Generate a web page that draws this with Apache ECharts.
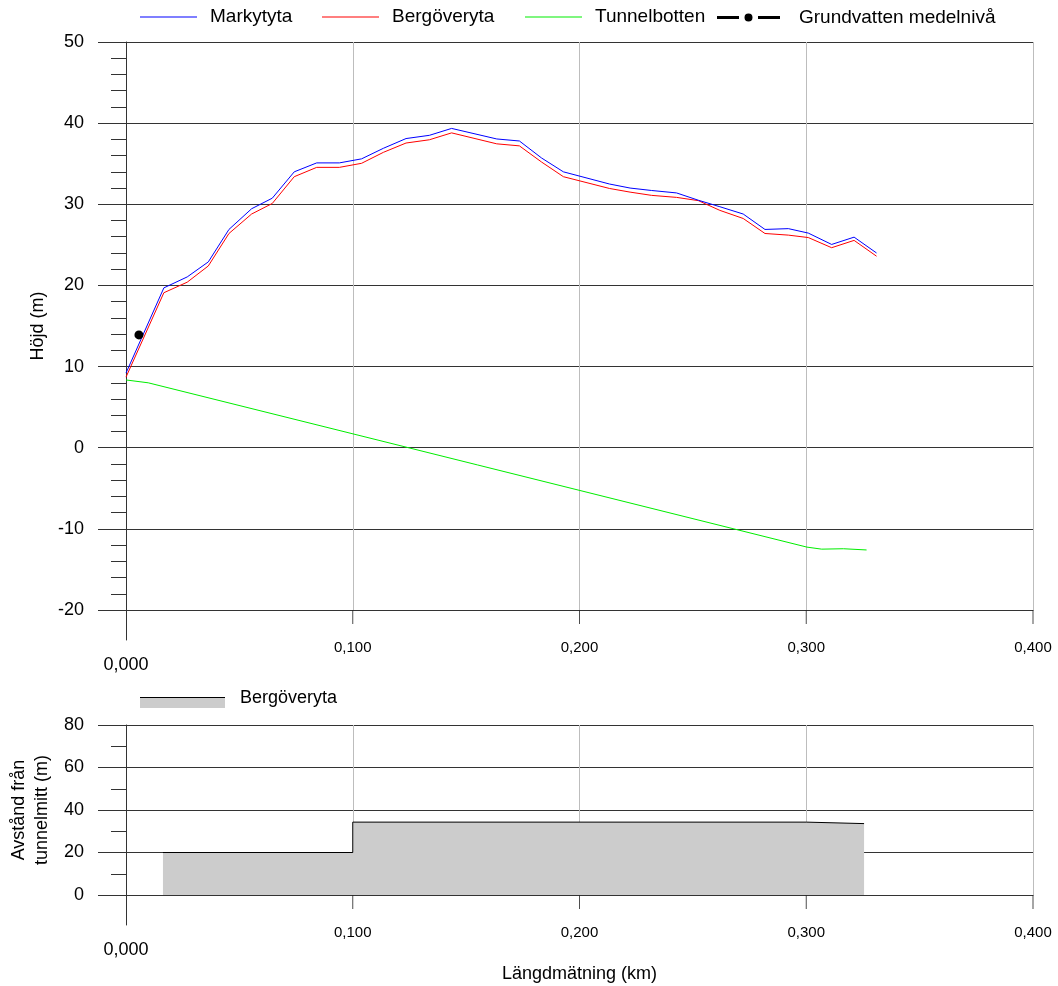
<!DOCTYPE html>
<html>
<head>
<meta charset="utf-8">
<script src="https://cdn.jsdelivr.net/npm/echarts@6/dist/echarts.min.js"></script>
<style>
html,body{margin:0;padding:0;background:#fff;}
#c{width:1058px;height:986px;}
</style>
</head>
<body>
<div id="c"></div>
<script>
// ---- data ----
const profileDist = [0, 0.0167, 0.027, 0.0363, 0.0454, 0.0554, 0.0645, 0.0742, 0.0841, 0.0941, 0.1039, 0.1135, 0.1235, 0.1338, 0.1436, 0.1635, 0.1735, 0.1833, 0.1929, 0.2132, 0.2223, 0.2318, 0.2428, 0.2524, 0.2619, 0.2722, 0.2818, 0.2921, 0.3009, 0.3112, 0.3211, 0.3310];
const markytyta = [9.2, 19.7, 21.05, 22.9, 26.9, 29.45, 30.75, 34.0, 35.1, 35.1, 35.6, 36.9, 38.1, 38.5, 39.35, 38.05, 37.8, 35.7, 34.0, 32.5, 32.0, 31.7, 31.4, 30.5, 29.7, 28.8, 26.9, 27.0, 26.45, 25.05, 25.95, 24.0];
const bergoveryta = [8.7, 19.1, 20.4, 22.4, 26.4, 28.8, 30.1, 33.4, 34.55, 34.55, 35.05, 36.4, 37.55, 37.95, 38.8, 37.45, 37.2, 35.2, 33.4, 31.95, 31.5, 31.1, 30.85, 30.45, 29.25, 28.25, 26.4, 26.2, 25.9, 24.65, 25.55, 23.6];
const tunnelDist = [0, 0.0098, 0.3003, 0.3068, 0.3164, 0.3266];
const tunnelbotten = [8.35, 8.0, -12.25, -12.5, -12.45, -12.6];
const grundDist = [0.0057];
const grundvatten = [13.9];
const bergAvstDist = [0.0163, 0.1, 0.3, 0.3255];
const bergAvst = [20, 34.3, 33.6, 33.6];
const xTicks = [0, 0.1, 0.2, 0.3, 0.4];
const topYTicks = [-20, -10, 0, 10, 20, 30, 40, 50];
const botYTicks = [0, 20, 40, 60, 80];

const FONT = 'Liberation Sans, Arial, sans-serif';
const BLUE = '#0000ff', RED = '#ff0000', GREEN = '#00ee00';
const zip = (a, b) => a.map((x, i) => [x, b[i]]);
const fmtX = v => Math.abs(v) < 1e-9 ? '{big|0,000}' : v.toFixed(3).replace('.', ',');

function xAxisCfg(gridIndex, extra) {
  return Object.assign({
    type: 'value', gridIndex, position: 'bottom',
    min: xTicks[0], max: xTicks[xTicks.length - 1], interval: 0.1,
    axisLine: { show: true, onZero: false, lineStyle: { color: '#333', width: 1 } },
    axisTick: { show: false },
    splitLine: { show: true, lineStyle: { color: '#bdbdbd', width: 1 } },
    axisLabel: {
      margin: 30, fontSize: 15, color: '#000', fontFamily: FONT,
      formatter: fmtX,
      rich: { big: { fontSize: 18, color: '#000', fontFamily: FONT, padding: [16, 0, 0, 0] } }
    }
  }, extra || {});
}
// short strip below each plot holding the downward x ticks
function tickStripX(gridIndex) {
  return {
    type: 'value', gridIndex,
    min: xTicks[0], max: xTicks[xTicks.length - 1], interval: 0.1,
    axisLine: { show: false, onZero: false }, axisTick: { show: false },
    axisLabel: { show: false }, splitLine: { show: false }
  };
}
function hiddenY(gridIndex) {
  return { type: 'value', gridIndex, min: 0, max: 1, show: false };
}
function yAxisCfg(gridIndex, min, max, interval, minorSplit, extra) {
  return Object.assign({
    type: 'value', gridIndex, min, max, interval,
    axisLine: { show: true, onZero: false, lineStyle: { color: '#333', width: 1 } },
    axisTick: { show: true, length: 28, lineStyle: { color: '#333', width: 1 } },
    minorTick: { show: true, splitNumber: minorSplit, length: 15, lineStyle: { color: '#333', width: 1 } },
    splitLine: { show: true, lineStyle: { color: '#333', width: 1 } },
    axisLabel: { margin: 42, fontSize: 18, color: '#000', fontFamily: FONT },
    nameLocation: 'middle',
    nameTextStyle: { fontSize: 18, color: '#000', fontFamily: FONT }
  }, extra || {});
}
function extAxis(gridIndex) {
  return {
    type: 'value', gridIndex, min: 0, max: 1,
    axisLine: { show: true, onZero: false, lineStyle: { color: '#333', width: 1 } },
    axisTick: { show: false }, axisLabel: { show: false }, splitLine: { show: false }
  };
}
function hiddenX(gridIndex) {
  return { type: 'value', gridIndex, min: 0, max: 1, show: false };
}
function tickSeries(axisIndex) {
  return { type: 'scatter', xAxisIndex: axisIndex, yAxisIndex: axisIndex, silent: true,
    data: xTicks.filter(v => v > 0).map(v => [v, 0.5]), symbol: 'rect', symbolSize: [1, 14],
    itemStyle: { color: '#222' }, z: 1, clip: false };
}

const legendText = { fontSize: 19, color: '#000', fontFamily: FONT, padding: [0, 0, 0, 8] };
const gridBase = { outerBoundsMode: 'none', containLabel: false };
function lineLegend(name, left, color) {
  return { data: [name], left, top: 7.5, padding: 0, icon: 'rect', itemWidth: 57, itemHeight: 1,
    itemStyle: { color, borderWidth: 0 }, textStyle: legendText, selectedMode: false };
}

const option = {
  animation: false,
  backgroundColor: '#fff',
  grid: [
    Object.assign({ left: 126, top: 42, width: 907, height: 568 }, gridBase),   // 0 top plot
    Object.assign({ left: 126, top: 610, width: 907, height: 30 }, gridBase),   // 1 y-axis extension
    Object.assign({ left: 126, top: 725, width: 907, height: 170 }, gridBase),  // 2 bottom plot
    Object.assign({ left: 126, top: 895, width: 907, height: 30 }, gridBase),   // 3 y-axis extension
    Object.assign({ left: 126, top: 610, width: 907, height: 14 }, gridBase),   // 4 x tick strip
    Object.assign({ left: 126, top: 895, width: 907, height: 14 }, gridBase)    // 5 x tick strip
  ],
  legend: [
    lineLegend('Markytyta', 140, BLUE),
    lineLegend('Bergöveryta', 322, RED),
    lineLegend('Tunnelbotten', 525, GREEN),
    { data: ['Grundvatten medelnivå'], left: 717, top: 8, padding: 0, itemWidth: 63, itemHeight: 9,
      icon: 'path://M0,3 L22,3 L22,6 L0,6 Z M27.5,4.5 A4,4 0 1,1 35.5,4.5 A4,4 0 1,1 27.5,4.5 Z M41,3 L63,3 L63,6 L41,6 Z',
      itemStyle: { color: '#000', borderWidth: 0 }, textStyle: Object.assign({}, legendText, { padding: [0, 0, 0, 14] }), selectedMode: false },
    { data: ['Bergöveryta (avstånd)'], left: 140, top: 689, padding: 0, icon: 'rect', itemWidth: 85, itemHeight: 10,
      itemStyle: { color: '#cccccc', borderWidth: 0 }, selectedMode: false,
      formatter: () => '{t|Bergöveryta}',
      textStyle: { fontSize: 18, color: '#000', fontFamily: FONT, padding: [0, 0, 0, 10],
        rich: { t: { fontSize: 18, color: '#000', fontFamily: FONT, padding: [0, 0, 10, 0] } } } },
    { data: ['Bergöveryta (avstånd)'], left: 140, top: 697, padding: 0, icon: 'rect', itemWidth: 85, itemHeight: 1,
      itemStyle: { color: '#000', borderWidth: 0 }, selectedMode: false,
      formatter: () => '', textStyle: { fontSize: 1 } }
  ],
  xAxis: [
    xAxisCfg(0),
    hiddenX(1),
    xAxisCfg(2, { name: 'Längdmätning (km)', nameLocation: 'middle', nameGap: 70,
      nameTextStyle: { fontSize: 18, color: '#000', fontFamily: FONT } }),
    hiddenX(3),
    tickStripX(4),
    tickStripX(5)
  ],
  yAxis: [
    yAxisCfg(0, topYTicks[0], topYTicks[topYTicks.length - 1], 10, 5, { name: 'Höjd (m)', nameGap: 77 }),
    extAxis(1),
    yAxisCfg(2, botYTicks[0], botYTicks[botYTicks.length - 1], 20, 2, {
      name: 'Avstånd från\ntunnelmitt (m)', nameGap: 69,
      nameTextStyle: { fontSize: 18, color: '#000', fontFamily: FONT, lineHeight: 23 } }),
    extAxis(3),
    hiddenY(4),
    hiddenY(5)
  ],
  series: [
    { name: 'Markytyta', type: 'line', xAxisIndex: 0, yAxisIndex: 0, symbol: 'none',
      data: zip(profileDist, markytyta), lineStyle: { color: BLUE, width: 1 }, itemStyle: { color: BLUE }, z: 4 },
    { name: 'Bergöveryta', type: 'line', xAxisIndex: 0, yAxisIndex: 0, symbol: 'none',
      data: zip(profileDist, bergoveryta), lineStyle: { color: RED, width: 1 }, itemStyle: { color: RED }, z: 3 },
    { name: 'Tunnelbotten', type: 'line', xAxisIndex: 0, yAxisIndex: 0, symbol: 'none',
      data: zip(tunnelDist, tunnelbotten), lineStyle: { color: GREEN, width: 1 }, itemStyle: { color: GREEN }, z: 3 },
    { name: 'Grundvatten medelnivå', type: 'line', xAxisIndex: 0, yAxisIndex: 0, symbol: 'circle', symbolSize: 9,
      data: zip(grundDist, grundvatten), lineStyle: { color: '#000', width: 3 }, itemStyle: { color: '#000' }, z: 5 },
    { name: 'Bergöveryta (avstånd)', type: 'line', xAxisIndex: 2, yAxisIndex: 2, symbol: 'none', step: 'end',
      data: zip(bergAvstDist, bergAvst), lineStyle: { color: '#000', width: 1 }, itemStyle: { color: '#cccccc' },
      areaStyle: { color: '#cccccc', opacity: 1 }, z: 3 },
    tickSeries(4),
    tickSeries(5)
  ]
};

const chart = echarts.init(document.getElementById('c'), null, { renderer: 'canvas' });
chart.setOption(option);
</script>
</body>
</html>
